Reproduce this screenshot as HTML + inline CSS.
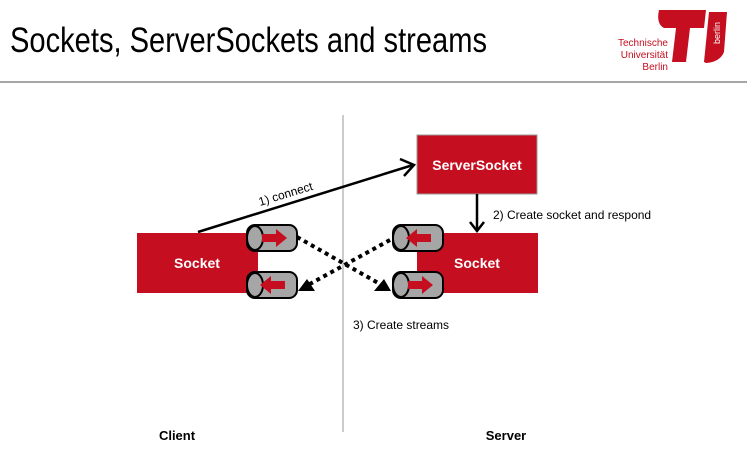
<!DOCTYPE html>
<html><head><meta charset="utf-8"><style>
html,body{margin:0;padding:0;background:#fff;}
svg{display:block;font-family:"Liberation Sans",sans-serif;}
</style></head><body>
<svg width="747" height="458" viewBox="0 0 747 458" xmlns="http://www.w3.org/2000/svg">
<defs>
<g id="cyl">
<rect x="0" y="0" width="50" height="26" rx="8" fill="#a6a6a6" stroke="#000" stroke-width="2"/>
<ellipse cx="8" cy="13" rx="8" ry="12" fill="#a6a6a6" stroke="#000" stroke-width="2"/>
</g>
</defs>
<text x="10" y="52" font-size="35" fill="#000" textLength="477" lengthAdjust="spacingAndGlyphs">Sockets, ServerSockets and streams</text>
<line x1="0" y1="82" x2="747" y2="82" stroke="#888" stroke-width="1.5"/>
<!-- logo -->
<text x="668" y="46" font-size="10" fill="#c50e1f" text-anchor="end">Technische</text>
<text x="668" y="58" font-size="10" fill="#c50e1f" text-anchor="end">Universität</text>
<text x="668" y="70" font-size="10" fill="#c50e1f" text-anchor="end">Berlin</text>
<path d="M659 10 L706 10 L704 28 L690 28 L686 62 L672 62 L676 28 L664 28 Q656 24 659 10 Z" fill="#c50e1f"/>
<path d="M704 62 L709 12 L727 12 L724 52 Q720 62 706 63 Z" fill="#c50e1f"/>
<text x="0" y="0" font-size="9" fill="#fff" transform="translate(720,44) rotate(-90)">berlin</text>
<line x1="343" y1="115" x2="343" y2="432" stroke="#aaa" stroke-width="1.2"/>
<rect x="137" y="233" width="121" height="60" fill="#c50e1f"/>
<text x="197" y="268" font-size="14" font-weight="bold" fill="#fff" text-anchor="middle">Socket</text>
<rect x="417" y="233" width="121" height="60" fill="#c50e1f"/>
<text x="477" y="268" font-size="14" font-weight="bold" fill="#fff" text-anchor="middle">Socket</text>
<rect x="417" y="135" width="120" height="59" fill="#c50e1f" stroke="#999" stroke-width="1"/>
<text x="477" y="170" font-size="14" font-weight="bold" fill="#fff" text-anchor="middle">ServerSocket</text>
<!-- connect arrow -->
<line x1="198" y1="232" x2="413" y2="165" stroke="#000" stroke-width="2.5"/>
<polyline points="400,159 414,165 404,176" fill="none" stroke="#000" stroke-width="2.5"/>
<text x="0" y="0" font-size="12" fill="#000" transform="translate(260,206) rotate(-17)">1) connect</text>
<!-- create socket arrow -->
<line x1="477" y1="194" x2="477" y2="230" stroke="#000" stroke-width="2.5"/>
<polyline points="470,222 477,231 484,222" fill="none" stroke="#000" stroke-width="2.5"/>
<text x="493" y="219" font-size="12" fill="#000">2) Create socket and respond</text>
<!-- dotted -->
<line x1="297" y1="237" x2="380" y2="284" stroke="#000" stroke-width="4" stroke-dasharray="4,4"/>
<polygon points="374,291 391,291 384,279" fill="#000"/>
<line x1="390" y1="240" x2="308" y2="285" stroke="#000" stroke-width="4" stroke-dasharray="4,4"/>
<polygon points="298,291 315,291 307,279" fill="#000"/>
<!-- cylinders -->
<use href="#cyl" x="247" y="225"/>
<polygon points="262,234 276,234 276,229 287,238 276,247 276,242 262,242" fill="#c50e1f"/>
<use href="#cyl" x="247" y="272"/>
<polygon points="285,281 271,281 271,276 260,285 271,294 271,289 285,289" fill="#c50e1f"/>
<use href="#cyl" x="393" y="225"/>
<polygon points="431,234 417,234 417,229 406,238 417,247 417,242 431,242" fill="#c50e1f"/>
<use href="#cyl" x="393" y="272"/>
<polygon points="408,281 422,281 422,276 433,285 422,294 422,289 408,289" fill="#c50e1f"/>
<text x="353" y="329" font-size="12" fill="#000">3) Create streams</text>
<text x="177" y="440" font-size="13" font-weight="bold" fill="#000" text-anchor="middle">Client</text>
<text x="506" y="440" font-size="13" font-weight="bold" fill="#000" text-anchor="middle">Server</text>
</svg>
</body></html>
